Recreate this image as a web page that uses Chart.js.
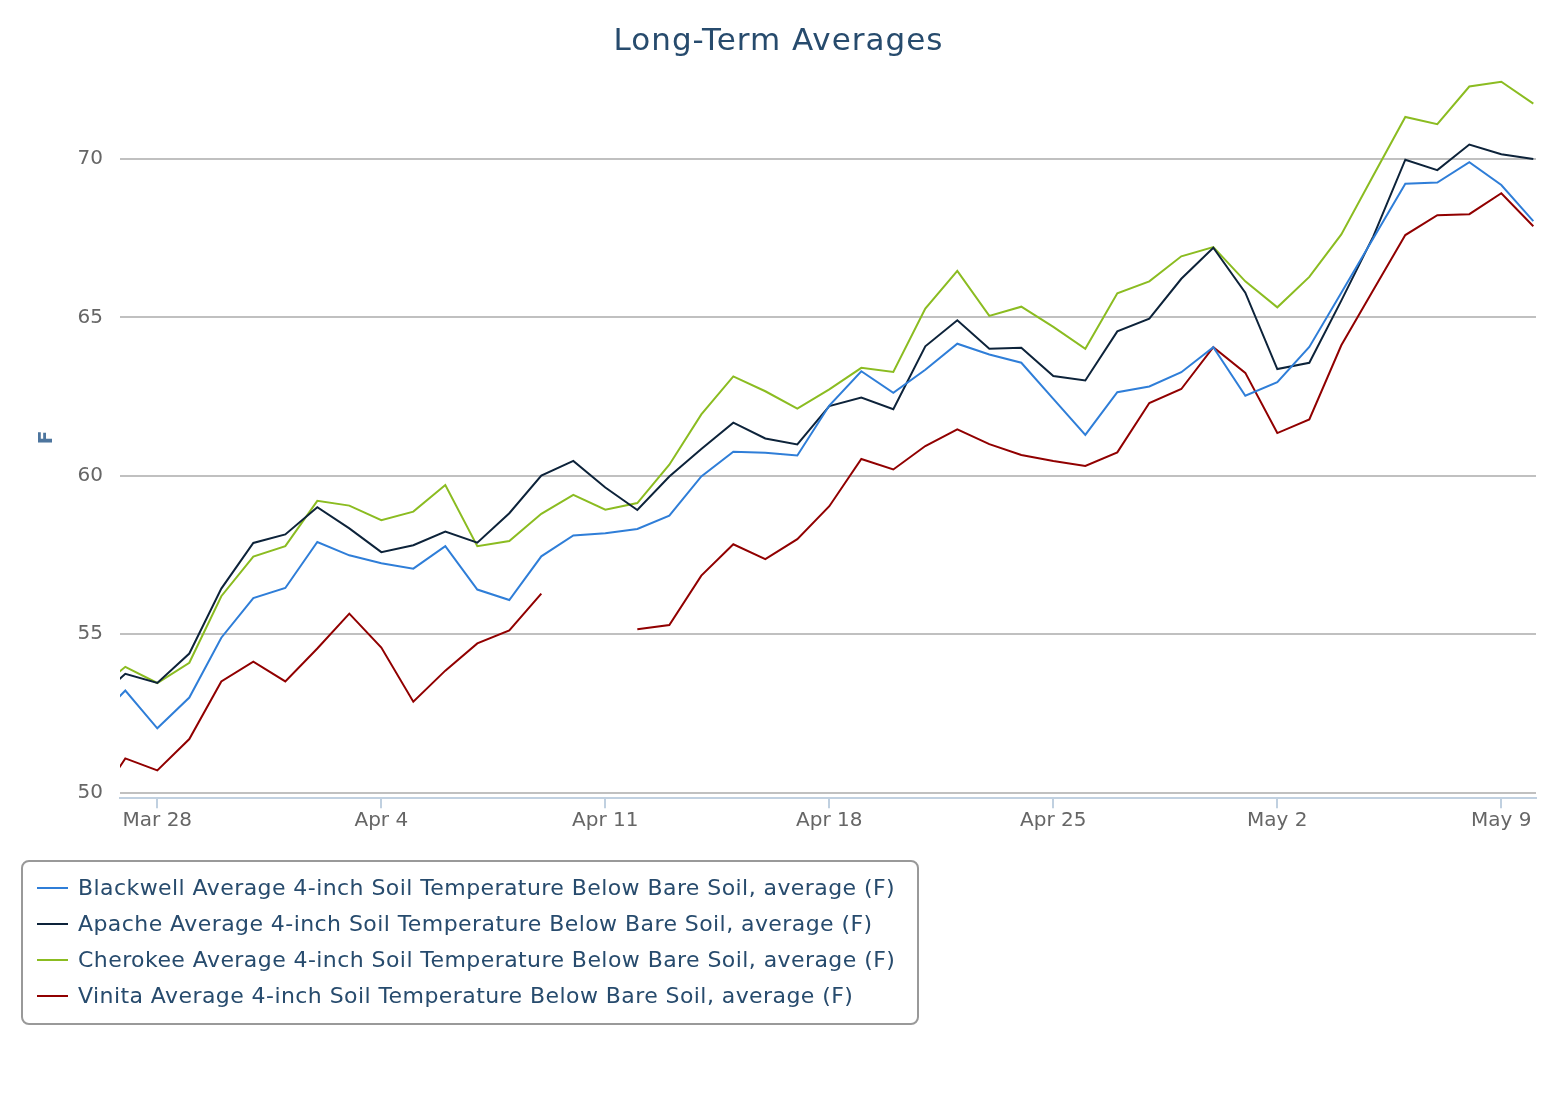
<!DOCTYPE html>
<html>
<head>
<meta charset="utf-8">
<title>Long-Term Averages</title>
<script src="https://cdn.jsdelivr.net/npm/chart.js@4.4.0/dist/chart.umd.min.js"></script>
<style>
    body { margin: 0; background: #fff; }
    #wrap { position: relative; width: 1556px; height: 1120px; }
    #legend {
        position: absolute; left: 21px; top: 860px;
        width: 894px; height: 161px;
        border: 2px solid #999; border-radius: 8px;
        font-family: "DejaVu Sans", sans-serif; font-size: 22px; letter-spacing: 0.43px; color: #274b6d;
    }
    .item { position: absolute; left: 14px; height: 30px; line-height: 30px; white-space: nowrap; }
    .item .swatch { position: absolute; left: 0; top: 14px; width: 31px; height: 2px; }
    .item span { position: absolute; left: 41px; top: 0; }
</style>
</head>
<body>
<div id="wrap">
    <canvas id="chart" width="1556" height="1120"></canvas>
    <div id="legend"></div>
</div>
<script>
// one entry per day, Mar 26 .. May 10
const days = ["Mar 26", "Mar 27", "Mar 28", "Mar 29", "Mar 30", "Mar 31", "Apr 1", "Apr 2", "Apr 3", "Apr 4",
    "Apr 5", "Apr 6", "Apr 7", "Apr 8", "Apr 9", "Apr 10", "Apr 11", "Apr 12", "Apr 13", "Apr 14",
    "Apr 15", "Apr 16", "Apr 17", "Apr 18", "Apr 19", "Apr 20", "Apr 21", "Apr 22", "Apr 23", "Apr 24",
    "Apr 25", "Apr 26", "Apr 27", "Apr 28", "Apr 29", "Apr 30", "May 1", "May 2", "May 3", "May 4",
    "May 5", "May 6", "May 7", "May 8", "May 9", "May 10"];

const blackwell = [52.2, 53.22, 52.03, 53.0, 54.89, 56.14, 56.46, 57.91, 57.49, 57.24,
    57.07, 57.78, 56.41, 56.08, 57.46, 58.12, 58.19, 58.32, 58.74, 59.98,
    60.76, 60.73, 60.64, 62.22, 63.3, 62.62, 63.35, 64.17, 63.83, 63.57,
    62.43, 61.29, 62.64, 62.82, 63.27, 64.06, 62.53, 62.96, 64.07, 65.78,
    67.5, 69.22, 69.26, 69.9, 69.18, 68.04];
const apache = [52.85, 53.75, 53.46, 54.39, 56.44, 57.88, 58.15, 59.01, 58.34, 57.59,
    57.81, 58.24, 57.89, 58.82, 60.01, 60.47, 59.63, 58.92, 59.98, 60.85,
    61.68, 61.18, 60.99, 62.2, 62.47, 62.1, 64.09, 64.91, 64.01, 64.04,
    63.15, 63.01, 64.56, 64.96, 66.22, 67.2, 65.78, 63.37, 63.57, 65.53,
    67.56, 69.98, 69.65, 70.46, 70.15, 70.0];
const cherokee = [53.14, 53.97, 53.46, 54.1, 56.2, 57.45, 57.78, 59.21, 59.06, 58.6,
    58.87, 59.71, 57.78, 57.94, 58.8, 59.4, 58.93, 59.14, 60.35, 61.94,
    63.14, 62.67, 62.12, 62.73, 63.41, 63.28, 65.28, 66.47, 65.05, 65.34,
    64.7, 64.01, 65.76, 66.14, 66.93, 67.22, 66.14, 65.32, 66.28, 67.62,
    69.48, 71.33, 71.1, 72.29, 72.44, 71.75];
const vinita = [49.54, 51.08, 50.7, 51.69, 53.51, 54.13, 53.51, 54.55, 55.65, 54.58,
    52.87, 53.85, 54.71, 55.12, 56.28, null, null, 55.16, 55.29, 56.85,
    57.84, 57.37, 58.0, 59.04, 60.53, 60.2, 60.94, 61.47, 61.0, 60.66,
    60.47, 60.31, 60.74, 62.3, 62.74, 64.06, 63.25, 61.35, 61.78, 64.12,
    65.87, 67.6, 68.23, 68.26, 68.92, 67.88];

const xTicks = [2, 9, 16, 23, 30, 37, 44];   // Mar 28, Apr 4, ... May 9
const yTicks = [50, 55, 60, 65, 70];

const seriesNames = [
    "Blackwell Average 4-inch Soil Temperature Below Bare Soil, average (F)",
    "Apache Average 4-inch Soil Temperature Below Bare Soil, average (F)",
    "Cherokee Average 4-inch Soil Temperature Below Bare Soil, average (F)",
    "Vinita Average 4-inch Soil Temperature Below Bare Soil, average (F)"
];
const seriesColors = ["#2f7ed8", "#0d233a", "#8bbc21", "#910000"];

const toPoints = arr => arr.map((v, i) => ({ x: i, y: v }));

// the original title font runs wider than DejaVu, so space the letters a bit,
// and centre it on the whole page rather than the padded layout box
const wideTitle = {
    id: "wideTitle",
    afterLayout(chart) {
        const tb = chart.titleBlock;
        if (!tb || tb._wide) return;
        const orig = tb.draw.bind(tb);
        tb.draw = function (area) {
            this.ctx.save();
            this.ctx.letterSpacing = "1px";
            this.ctx.translate(10.5, 0);
            orig(area);
            this.ctx.restore();
        };
        tb._wide = true;
    }
};

Chart.defaults.font.family = "'DejaVu Sans', sans-serif";

const chart = new Chart(document.getElementById("chart"), {
    type: "line",
    data: {
        datasets: [blackwell, apache, cherokee, vinita].map((arr, i) => ({
            label: seriesNames[i],
            data: toPoints(arr),
            borderColor: seriesColors[i],
            backgroundColor: seriesColors[i],
            borderWidth: 2,
            pointRadius: 0,
            tension: 0,
            spanGaps: false
        }))
    },
    options: {
        responsive: false,
        animation: false,
        devicePixelRatio: 1,
        layout: { padding: { top: 0, left: 0, right: 20, bottom: 0 } },
        plugins: {
            legend: { display: false },
            tooltip: { enabled: false },
            title: {
                display: true,
                text: "Long-Term Averages",
                color: "#274b6d",
                font: { size: 31, weight: "normal" },
                padding: { top: 23.4, bottom: 16.1 }
            }
        },
        scales: {
            x: {
                type: "linear",
                min: 0.834,
                max: 45.084,
                afterBuildTicks: axis => { axis.ticks = xTicks.map(v => ({ value: v })); },
                afterFit: axis => { axis.height = 1120 - 798.3; },
                grid: { drawOnChartArea: false, color: "#c0d0e0", lineWidth: 2, tickLength: 10 },
                border: { color: "#c0d0e0", width: 2 },
                ticks: {
                    callback: v => days[v],
                    color: "#666",
                    font: { size: 20 },
                    padding: 0,
                    maxRotation: 0,
                    autoSkip: false
                }
            },
            y: {
                min: 49.82,
                max: 72.6,
                afterBuildTicks: axis => { axis.ticks = yTicks.map(v => ({ value: v })); },
                afterFit: axis => { axis.width = 120; },
                grid: { color: "#c0c0c0", lineWidth: 2, drawTicks: false },
                border: { display: false },
                ticks: { color: "#666", font: { size: 20 }, padding: 17 },
                title: {
                    display: true,
                    text: "F",
                    color: "#4d759e",
                    font: { size: 20, weight: "bold" },
                    padding: { top: 35, bottom: 0 }
                }
            }
        }
    },
    plugins: [wideTitle]
});

// legend box below the chart, built from the datasets
const legend = document.getElementById("legend");
chart.data.datasets.forEach((ds, i) => {
    const row = document.createElement("div");
    row.className = "item";
    row.style.top = (11 + i * 36) + "px";
    row.innerHTML = '<div class="swatch" style="background:' + ds.borderColor + '"></div><span></span>';
    row.querySelector("span").textContent = ds.label;
    legend.appendChild(row);
});
</script>
</body>
</html>
